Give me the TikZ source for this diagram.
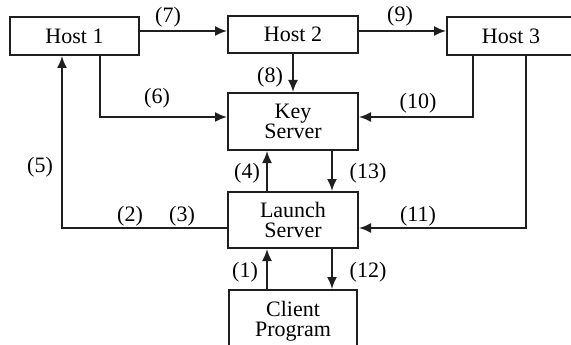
\documentclass[tikz,border=0pt]{standalone}
\usepackage{fontspec}
\setmainfont{Liberation Serif}
\usetikzlibrary{arrows.meta}
\begin{document}
\begin{tikzpicture}[x=1pt,y=-1pt,
  ink/.style={draw=black!88},
  box/.style={ink, line width=2pt, inner sep=0pt, align=center,
    font=\fontsize{22}{20}\selectfont},
  arr/.style={ink, line width=1.8pt, -{Latex[length=12pt,width=10pt]}},
  lbl/.style={inner sep=0pt, font=\fontsize{22}{20}\selectfont}]
\clip (0,0) rectangle (571,345);
\fill[white] (0,0) rectangle (571,345);

% boxes
\node[box, minimum width=129pt, minimum height=38pt] (h1) at (74.5,36) {Host 1};
\node[box, minimum width=130pt, minimum height=37pt] (h2) at (293,34.5) {Host 2};
\node[box, minimum width=128pt, minimum height=38pt] (h3) at (511,36) {Host 3};
\node[box, minimum width=130pt, minimum height=57pt] (key) at (293,121.5) {Key\\Server};
\node[box, minimum width=130pt, minimum height=56pt] (launch) at (293,220) {Launch\\Server};
\node[box, minimum width=128pt, minimum height=62pt] (client) at (293,321) {Client\\Program};

% connectors
\draw[arr] (h1.east |- 0,31) -- (h2.west |- 0,31);
\draw[arr] (h2.east |- 0,31) -- (h3.west |- 0,31);
\draw[arr] (h2.south) -- (key.north);
\draw[arr] (h1.south -| 100,0) |- (key.west |- 0,117);
\draw[arr] (h3.south -| 473,0) |- (key.east |- 0,117);
\draw[arr] (launch.north -| 267,0) -- (key.south -| 267,0);
\draw[arr] (key.south -| 332,0) -- (launch.north -| 332,0);
\draw[arr] (launch.west |- 0,228) -| (h1.south -| 62,0);
\draw[arr] (h3.south -| 526,0) |- (launch.east |- 0,228);
\draw[arr] (client.north -| 267,0) -- (launch.south -| 267,0);
\draw[arr] (launch.south -| 332,0) -- (client.north -| 332,0);

% step numbers
\node[lbl] (l7) at (168,17) {(7)};
\node[lbl] (l9) at (400,16) {(9)};
\node[lbl] (l8) at (270,77) {(8)};
\node[lbl] (l6) at (157,98) {(6)};
\node[lbl] (l10) at (418,103) {(10)};
\node[lbl] (l5) at (40,167) {(5)};
\node[lbl] (l2) at (130,216) {(2)};
\node[lbl] (l3) at (182,216) {(3)};
\node[lbl] (l4) at (247,173) {(4)};
\node[lbl] (l13) at (368,173) {(13)};
\node[lbl] (l11) at (418,216) {(11)};
\node[lbl] (l1) at (245,272) {(1)};
\node[lbl] (l12) at (368,272) {(12)};
\end{tikzpicture}
\end{document}
